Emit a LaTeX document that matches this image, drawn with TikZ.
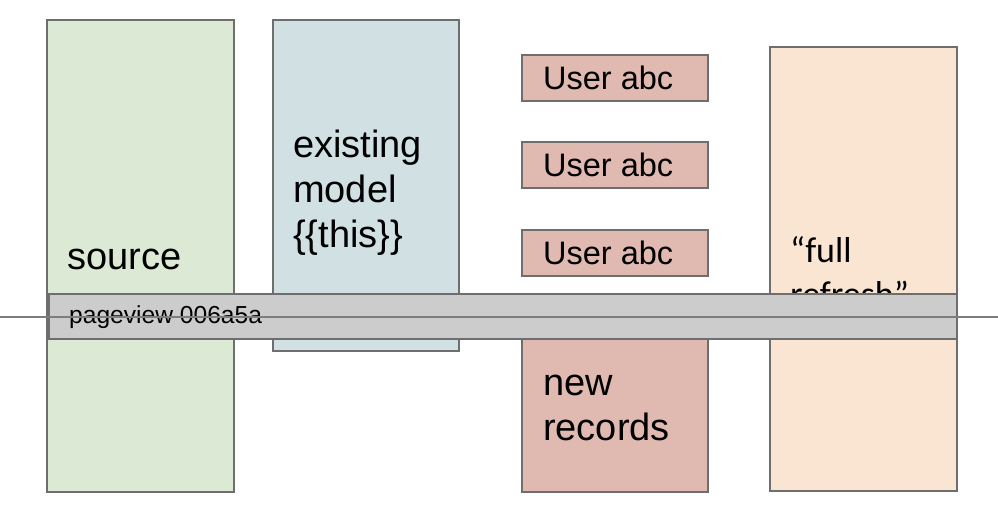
\documentclass[tikz,border=0pt]{standalone}
\usepackage{fontspec}
\setmainfont{Liberation Sans}
\newfontfamily\calib{Carlito}
\definecolor{srcfill}{HTML}{DCE9D5}
\definecolor{modfill}{HTML}{D0E0E3}
\definecolor{recfill}{HTML}{E0B9B1}
\definecolor{fullfill}{HTML}{F9E5D2}
\definecolor{barfill}{HTML}{CCCCCC}
\definecolor{edge}{HTML}{6E6E6E}
\tikzset{
  box/.style={draw=edge, line width=1.5pt, rectangle, inner sep=0pt, anchor=north west},
  big/.style={font=\fontsize{38}{45}\selectfont, anchor=base west, inner sep=0pt, align=left},
  mid/.style={font=\fontsize{32.5}{36}\selectfont, anchor=base west, inner sep=0pt},
  small/.style={font=\fontsize{24.6}{28}\selectfont, anchor=base west, inner sep=0pt},
}
\begin{document}
\begin{tikzpicture}[x=1pt,y=-1pt]
\useasboundingbox (0,0) rectangle (998,528);
% boxes
\node[box, fill=srcfill, minimum width=187pt, minimum height=472pt] (src) at (46,19) {};
\node[box, fill=modfill, minimum width=186pt, minimum height=331pt] (mod) at (272,19) {};
\node[box, fill=recfill, minimum width=186pt, minimum height=46pt] (u1) at (521,54) {};
\node[box, fill=recfill, minimum width=186pt, minimum height=46pt] (u2) at (521,141) {};
\node[box, fill=recfill, minimum width=186pt, minimum height=46pt] (u3) at (521,229) {};
\node[box, fill=recfill, minimum width=186pt, minimum height=191pt] (newrec) at (521,300) {};
\node[box, fill=fullfill, minimum width=187pt, minimum height=444pt] (full) at (769,46) {};
% texts (base anchor = baseline of the last line)
\node[big] (srctext) at (67,269) {source};
\node[big] (modtext) at (293,247) {existing\\model\\\{\{this\}\}};
\node[mid] (u1t) at (543,89) {User abc};
\node[mid] (u2t) at (543,176) {User abc};
\node[mid] (u3t) at (543,264) {User abc};
\node[big] (newtext) at (543,440) {new\\records};
\node[big, font=\calib\fontsize{36}{44}\selectfont] (fulltext) at (790,306) {“full\\refresh”};
% bar
\node[box, fill=barfill, minimum width=908pt, minimum height=45pt] (bar) at (48,293) {};
\node[small] (bartext) at (69,323) {pageview 006a5a};
% line
\coordinate (lineL) at (0,317);
\coordinate (lineR) at (998,317);
\draw[draw=edge!90, line width=1.4pt] (lineL) -- (lineR);
\end{tikzpicture}
\end{document}
